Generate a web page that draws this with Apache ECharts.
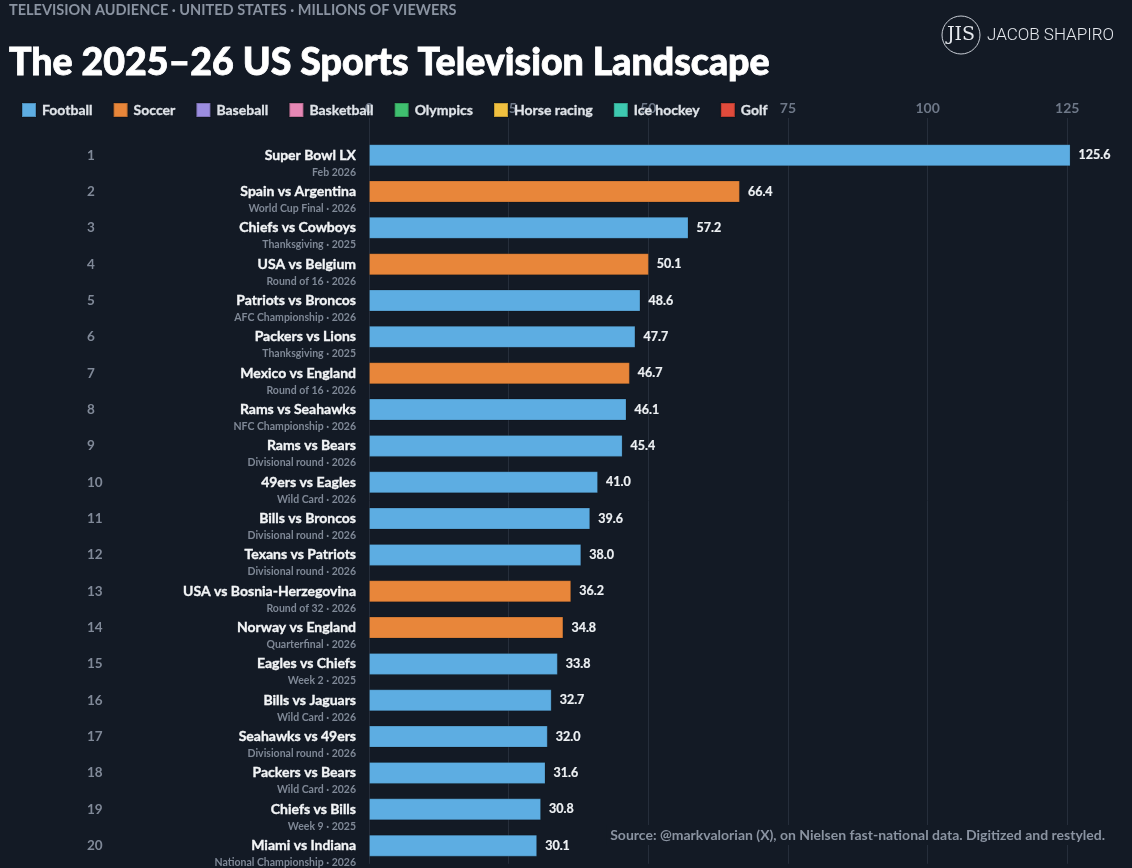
<!DOCTYPE html>
<html>
<head>
<meta charset="utf-8">
<script src="https://cdn.jsdelivr.net/npm/echarts@6/dist/echarts.min.js"></script>
<style>
html,body{margin:0;padding:0;background:#131a25;}
#c{width:1132px;height:868px;}
</style>
</head>
<body>
<div id="c"></div>
<script>
const ranks = ['1','2','3','4','5','6','7','8','9','10','11','12','13','14','15','16','17','18','19','20'];
const events = ['Super Bowl LX','Spain vs Argentina','Chiefs vs Cowboys','USA vs Belgium','Patriots vs Broncos','Packers vs Lions','Mexico vs England','Rams vs Seahawks','Rams vs Bears','49ers vs Eagles','Bills vs Broncos','Texans vs Patriots','USA vs Bosnia-Herzegovina','Norway vs England','Eagles vs Chiefs','Bills vs Jaguars','Seahawks vs 49ers','Packers vs Bears','Chiefs vs Bills','Miami vs Indiana'];
const details = ['Feb 2026','World Cup Final · 2026','Thanksgiving · 2025','Round of 16 · 2026','AFC Championship · 2026','Thanksgiving · 2025','Round of 16 · 2026','NFC Championship · 2026','Divisional round · 2026','Wild Card · 2026','Divisional round · 2026','Divisional round · 2026','Round of 32 · 2026','Quarterfinal · 2026','Week 2 · 2025','Wild Card · 2026','Divisional round · 2026','Wild Card · 2026','Week 9 · 2025','National Championship · 2026'];
const viewers = [125.6,66.4,57.2,50.1,48.6,47.7,46.7,46.1,45.4,41.0,39.6,38.0,36.2,34.8,33.8,32.7,32.0,31.6,30.8,30.1];
const sportOf = ['Football','Soccer','Football','Soccer','Football','Football','Soccer','Football','Football','Football','Football','Football','Soccer','Soccer','Football','Football','Football','Football','Football','Football'];
const sports = ['Football','Soccer','Baseball','Basketball','Olympics','Horse racing','Ice hockey','Golf'];
const sportColors = ['#5dade2','#e8863a','#9b8de0','#e687b5','#3fbf6f','#f0c040','#3ec9b0','#e04b3c'];
const xTicks = [0,25,50,75,100,125];

const FONT = 'Lato';
const chart = echarts.init(document.getElementById('c'), null, {renderer:'canvas'});

const series = sports.map((s,i)=>({
  name: s,
  type: 'bar',
  barWidth: 22,
  barGap: '-100%',
  yAxisIndex: 0,
  itemStyle: {color: sportColors[i], borderColor: 'rgba(0,0,0,0.18)', borderWidth: 1},
  label: {
    show: true, position: 'right', distance: 8,
    color: '#eef1f4', fontFamily: FONT, fontWeight: 'bold', fontSize: 12.5,
    textBorderColor: '#eef1f4', textBorderWidth: 0.2,
    formatter: p => Number(p.value).toFixed(1)
  },
  data: viewers.map((v,k)=> sportOf[k]===s ? v : '-')
}));

const option = {
  backgroundColor: '#131a25',
  animation: false,
  title: [
    {text: 'TELEVISION AUDIENCE · UNITED STATES · MILLIONS OF VIEWERS', left: 9, top: 3, padding: 0,
     textStyle: {color: '#8a93a1', fontFamily: FONT, fontWeight: 'bold', fontSize: 14.5}},
    {text: 'The 2025–26 US Sports Television Landscape', left: 9, top: 44, padding: 0,
     textStyle: {color: '#ffffff', fontFamily: FONT, fontWeight: 900, fontSize: 37.5,
       textBorderColor: '#ffffff', textBorderWidth: 0.8}}
  ],
  legend: {
    data: sports, left: 21, top: 102, padding: 0, itemWidth: 14, itemHeight: 14, itemGap: 20,
    icon: 'rect', selectedMode: false,
    textStyle: {color: '#dfe3e8', fontFamily: FONT, fontWeight: 'bold', fontSize: 14,
      textBorderColor: '#dfe3e8', textBorderWidth: 0.3, padding: [0,0,0,1]}
  },
  grid: {left: 369, right: 0, top: 137, bottom: -1, containLabel: false},
  xAxis: {
    type: 'value', position: 'top', min: 0, max: 136.6, interval: 25,
    axisLine: {show: false},
    axisTick: {show: true, length: 19, lineStyle: {color: '#262e3b', width: 1}},
    splitLine: {show: true, lineStyle: {color: '#262e3b', width: 1}},
    axisLabel: {margin: 22, color: '#6e7888', fontFamily: FONT, fontWeight: 'bold', fontSize: 14,
      showMaxLabel: false,
      formatter: v => xTicks.indexOf(v) >= 0 ? String(v) : ''}
  },
  yAxis: [
    {
      type: 'category', inverse: true, data: events,
      axisLine: {show: false}, axisTick: {show: false},
      axisLabel: {
        margin: 13, align: 'right', padding: [16,0,0,0],
        formatter: (v, i) => '{n|' + v + '}\n{d|' + details[i] + '}',
        rich: {
          n: {color: '#f2f4f6', fontFamily: FONT, fontWeight: 'bold', fontSize: 14, lineHeight: 18, align: 'right',
              textBorderColor: '#f2f4f6', textBorderWidth: 0.35},
          d: {color: '#7f8896', fontFamily: FONT, fontWeight: 'bold', fontSize: 10.5, lineHeight: 16, align: 'right'}
        }
      }
    },
    {
      type: 'category', inverse: true, data: ranks, position: 'left', offset: 282,
      axisLine: {show: false}, axisTick: {show: false},
      axisLabel: {margin: 0, align: 'left', color: '#808998', fontFamily: FONT, fontWeight: 'bold', fontSize: 13.5}
    }
  ],
  graphic: [
    {type: 'circle', shape: {cx: 961, cy: 35, r: 19}, style: {fill: 'none', stroke: '#c9ced6', lineWidth: 1}},
    {type: 'text', x: 961, y: 35, style: {text: 'JIS', fill: '#e6e9ee', font: '300 19px "DejaVu Serif"', align: 'center', verticalAlign: 'middle'}},
    {type: 'text', x: 987, y: 36, style: {text: 'JACOB SHAPIRO', fill: '#e6e9ee', font: '300 17px Roboto', align: 'left', verticalAlign: 'middle'}},
    {type: 'text', right: 23, top: 825, z: 100,
     style: {text: 'Source: @markvalorian (X), on Nielsen fast-national data. Digitized and restyled.',
       fill: '#8a93a1', font: 'bold 14px Lato', backgroundColor: '#131a25', padding: [3,4,3,4]}}
  ],
  series: series.concat([{
    type: 'bar', yAxisIndex: 1, data: [], silent: true
  }])
};
chart.setOption(option);
</script>
</body>
</html>
